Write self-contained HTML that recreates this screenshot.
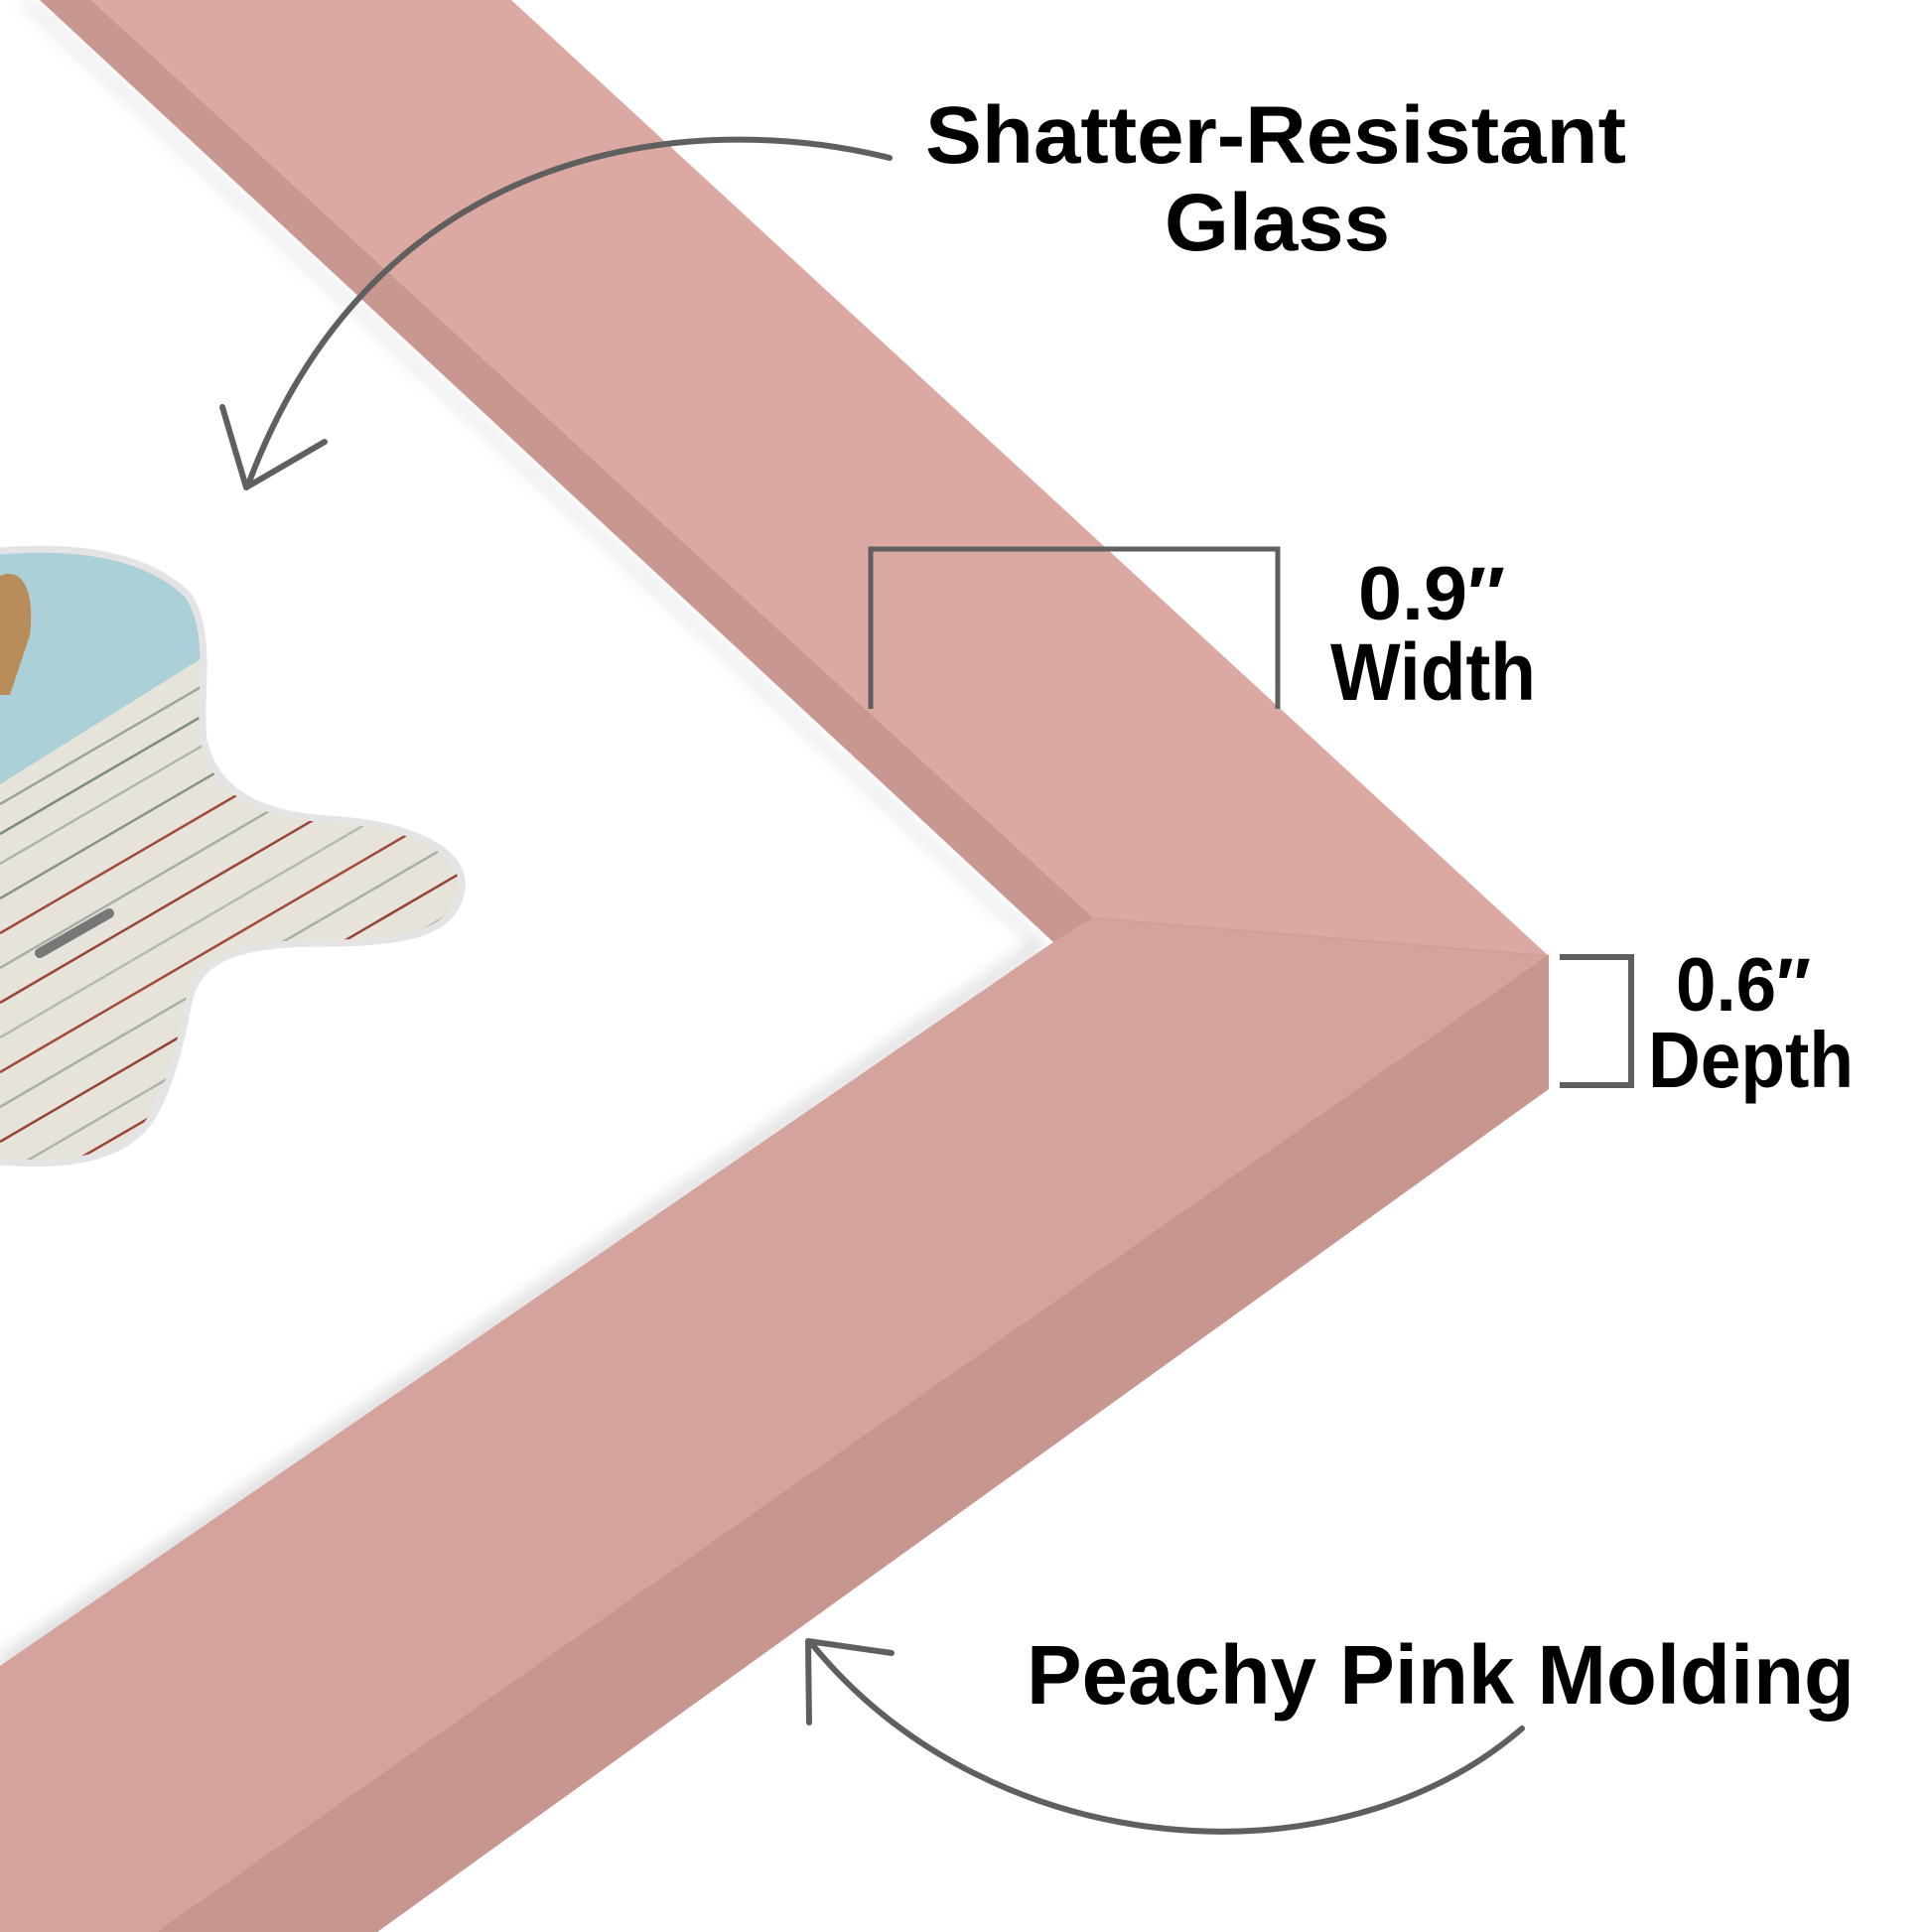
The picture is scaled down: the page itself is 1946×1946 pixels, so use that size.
<!DOCTYPE html>
<html><head><meta charset="utf-8"><style>
html,body{margin:0;padding:0;background:#fff;}
svg{display:block;}
text{font-family:"Liberation Sans",sans-serif;font-weight:bold;fill:#000;}
</style></head><body>
<svg width="1946" height="1946" viewBox="0 0 1946 1946" xmlns="http://www.w3.org/2000/svg">
<defs>
<filter id="sh" x="-10%" y="-10%" width="120%" height="120%"><feGaussianBlur stdDeviation="8"/></filter>
<clipPath id="blob"><path d="M0,555 C80,548 150,560 190,600 C215,640 200,700 205,745 C215,790 250,820 330,825 C420,830 470,860 465,895 C460,935 420,950 330,950 C250,950 200,960 190,1010 C180,1060 170,1100 150,1130 C120,1170 60,1175 0,1170 Z"/></clipPath>
</defs>
<rect width="1946" height="1946" fill="#fff"/>
<!-- photo blob -->
<g clip-path="url(#blob)">
<rect x="0" y="540" width="480" height="650" fill="#e6e4da"/>
<polygon points="0,540 240,540 240,640 0,790" fill="#abd0d7"/>
<path d="M0,580 C25,570 35,600 30,640 L10,700 L0,700 Z" fill="#b88d5a"/>
<g stroke-width="2.5">
<line x1="0" y1="810" x2="480" y2="530" stroke="#9aa39c"/>
<line x1="0" y1="840" x2="480" y2="560" stroke="#7d8a80"/>
<line x1="0" y1="870" x2="480" y2="590" stroke="#b0b6ae"/>
<line x1="0" y1="905" x2="480" y2="625" stroke="#8b918a"/>
<line x1="0" y1="940" x2="480" y2="660" stroke="#a04a3e"/>
<line x1="0" y1="975" x2="480" y2="695" stroke="#a8aea6"/>
<line x1="0" y1="1010" x2="480" y2="730" stroke="#9b4438"/>
<line x1="0" y1="1045" x2="480" y2="765" stroke="#b7bab2"/>
<line x1="0" y1="1080" x2="480" y2="800" stroke="#a24a3c"/>
<line x1="0" y1="1115" x2="480" y2="835" stroke="#a9aea7"/>
<line x1="0" y1="1150" x2="480" y2="870" stroke="#974236"/>
<line x1="0" y1="1185" x2="480" y2="905" stroke="#b0b3ab"/>
<line x1="40" y1="1190" x2="480" y2="935" stroke="#9b4438"/>
<line x1="100" y1="1190" x2="480" y2="970" stroke="#aab0a8"/>
</g>
<path d="M40,960 L110,920" stroke="#777" stroke-width="10" stroke-linecap="round"/>
</g>
<path d="M0,555 C80,548 150,560 190,600 C215,640 200,700 205,745 C215,790 250,820 330,825 C420,830 470,860 465,895 C460,935 420,950 330,950 C250,950 200,960 190,1010 C180,1060 170,1100 150,1130 C120,1170 60,1175 0,1170" fill="none" stroke="#e4e4e4" stroke-width="7"/>
<!-- shadows -->
<polygon points="30,0 1055,955 0,1690 0,1668 1040,950 20,0" fill="#999" opacity="0.35" filter="url(#sh)"/>
<!-- frame -->
<polygon points="40,0 92,0 1102,925 1061,949" fill="#c8978f"/>
<polygon points="92,0 515,0 1560,963 1102,925" fill="#dba9a2"/>
<polygon points="1061,949 1102,925 1560,963 160,1946 0,1946 0,1678" fill="#d4a39c"/>
<polygon points="1560,963 1560,1097 380,1946 160,1946" fill="#c7978f"/>
<line x1="1102" y1="925" x2="1560" y2="963" stroke="#cf9f98" stroke-width="2"/>
<line x1="1560" y1="963" x2="160" y2="1946" stroke="#c6958d" stroke-width="2"/>
<!-- brackets -->
<polyline points="877,714 877,553 1287,553 1287,714" fill="none" stroke="#5f5f5f" stroke-width="5"/>
<polyline points="1571,964 1643,964 1643,1093 1571,1093" fill="none" stroke="#5f5f5f" stroke-width="6"/>
<!-- arrows -->
<g fill="none" stroke="#5f5f5f" stroke-width="6" stroke-linecap="round" stroke-linejoin="round">
<path d="M896,159 C700,110 380,140 250,488"/>
<polyline points="224,410 248,491 327,445"/>
<path d="M1533,1741 C1350,1900 1000,1880 817,1655"/>
<polyline points="815,1735 814,1653 898,1665"/>
</g>
<!-- text -->
<text x="932" y="164" font-size="82" textLength="706" lengthAdjust="spacingAndGlyphs">Shatter-Resistant</text>
<text x="1173" y="252" font-size="82" textLength="227" lengthAdjust="spacingAndGlyphs">Glass</text>
<text x="1368" y="624" font-size="76" textLength="148" lengthAdjust="spacingAndGlyphs">0.9″</text>
<text x="1340" y="705" font-size="82" textLength="207" lengthAdjust="spacingAndGlyphs">Width</text>
<text x="1688" y="1018" font-size="76" textLength="136" lengthAdjust="spacingAndGlyphs">0.6″</text>
<text x="1660" y="1095" font-size="80" textLength="207" lengthAdjust="spacingAndGlyphs">Depth</text>
<text x="1034" y="1716" font-size="84" textLength="834" lengthAdjust="spacingAndGlyphs">Peachy Pink Molding</text>
</svg>
</body></html>
